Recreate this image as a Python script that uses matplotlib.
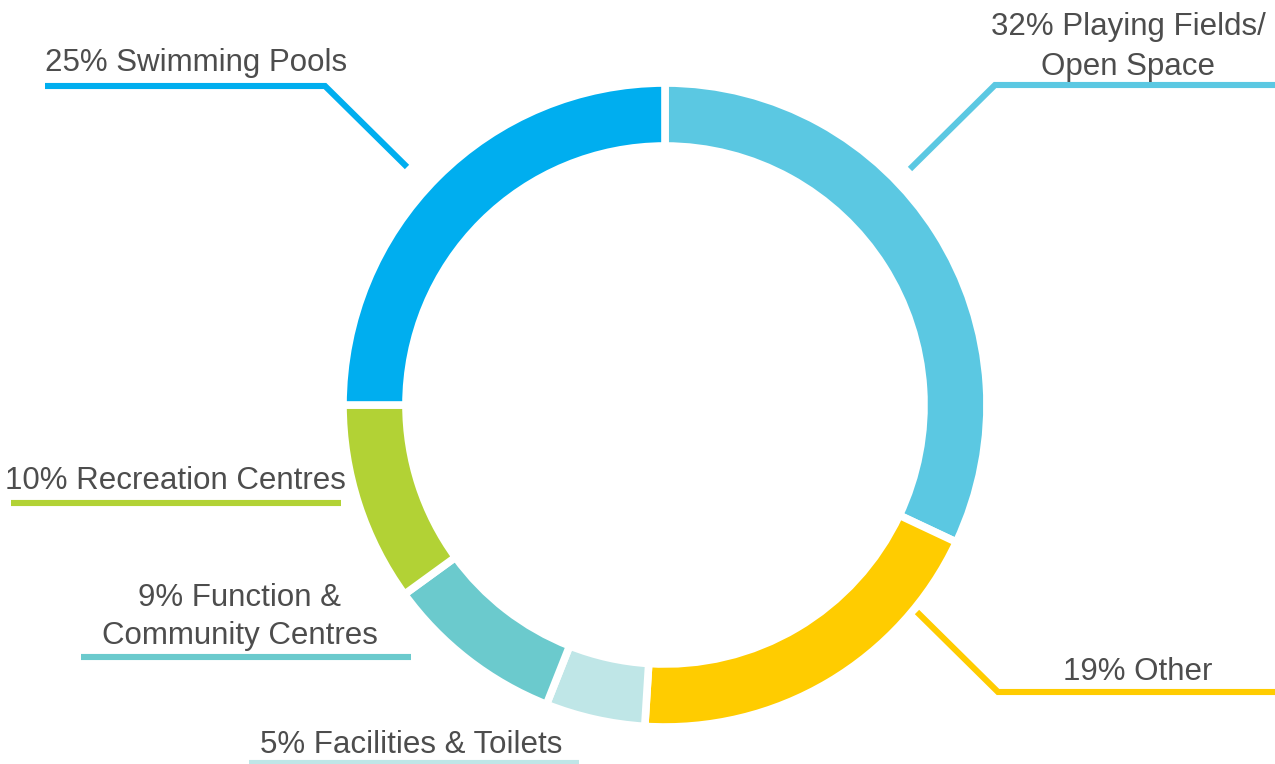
import matplotlib
matplotlib.use("Agg")
from matplotlib import pyplot as plt

W, H = 1275, 764

# data, clockwise from 12 o'clock
categories = ["Playing Fields/\nOpen Space", "Other", "Facilities & Toilets",
              "Function &\nCommunity Centres", "Recreation Centres", "Swimming Pools"]
shares = [32, 19, 5, 9, 10, 25]
colors = ["#5BC8E2", "#FFCC00", "#BFE6E7", "#6BCACD", "#B2D235", "#00AEEF"]

TEXT = "#4D4D4D"
FAMILY = ["Liberation Sans", "DejaVu Sans"]

# label layout in pixel coords (y down): text centre x, baselines, leader polyline
layout = [
    dict(x=1128, base=[35, 75], line=[(910, 169), (995, 85), (1275, 85)]),
    dict(x=1138, base=[680], line=[(917, 612), (998, 692), (1275, 692)]),
    dict(x=411, base=[753], line=[(249, 763), (579, 763)]),
    dict(x=240, base=[606, 644], line=[(81, 657), (411, 657)]),
    dict(x=175, base=[489], line=[(11, 503), (341, 503)]),
    dict(x=196, base=[71], line=[(45, 86), (325, 86), (407, 167)]),
]

fig = plt.figure(figsize=(W / 100, H / 100), dpi=100)
ax = fig.add_axes([0, 0, 1, 1])

ax.pie(shares, colors=colors, startangle=90, counterclock=False,
       center=(665, H - 405), radius=322,
       wedgeprops=dict(width=63, edgecolor="white", linewidth=5.5))

for pct, name, col, lay in zip(shares, categories, colors, layout):
    xs = [p[0] for p in lay["line"]]
    ys = [H - p[1] for p in lay["line"]]
    ax.plot(xs, ys, color=col, lw=4.4, solid_capstyle="butt",
            solid_joinstyle="miter")
    rows = f"{pct}% {name}".split("\n")
    for row, b in zip(rows, lay["base"]):
        ax.text(lay["x"], H - b, row, ha="center", va="baseline",
                fontsize=22.5, color=TEXT, family=FAMILY)

ax.set_xlim(0, W)
ax.set_ylim(0, H)
ax.set_aspect("equal")
ax.axis("off")

fig.savefig("out.png", dpi=100)
